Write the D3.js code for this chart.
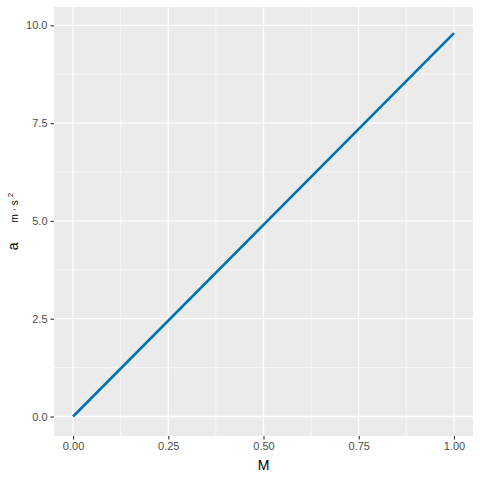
<!DOCTYPE html>
<html>
<head>
<meta charset="utf-8">
<script src="https://cdn.jsdelivr.net/npm/d3@7"></script>
<style>
  body { margin: 0; background: #fff; }
  svg { font-family: "Liberation Sans", Arial, sans-serif; }
</style>
</head>
<body>
<svg id="chart" width="480" height="480"></svg>
<script>
// data: acceleration vs mass fraction
const massValues = [0, 1];
const accelValues = [0, 9.8];
const xTicks = [0, 0.25, 0.5, 0.75, 1];
const yTicks = [0, 2.5, 5, 7.5, 10];
const xMinor = [0.125, 0.375, 0.625, 0.875];
const yMinor = [1.25, 3.75, 6.25, 8.75];

const svg = d3.select("#chart");
const panel = { left: 54, right: 473, top: 7, bottom: 436 };

// ggplot-like 5% expansion
const xDom = [0, 1], yDom = [0, 9.97];
const xPad = (xDom[1] - xDom[0]) * 0.05, yPad = (yDom[1] - yDom[0]) * 0.05;

const x = d3.scaleLinear()
  .domain([xDom[0] - xPad, xDom[1] + xPad])
  .range([panel.left, panel.right]);
const y = d3.scaleLinear()
  .domain([yDom[0] - yPad, yDom[1] + yPad])
  .range([panel.bottom, panel.top]);

svg.append("rect")
  .attr("x", panel.left).attr("y", panel.top)
  .attr("width", panel.right - panel.left)
  .attr("height", panel.bottom - panel.top)
  .attr("fill", "#EBEBEB");

const grid = svg.append("g").attr("stroke", "#fff").attr("fill", "none");
// minor
grid.selectAll(".vminor").data(xMinor).join("line")
  .attr("class", "vminor")
  .attr("x1", d => x(d)).attr("x2", d => x(d))
  .attr("y1", panel.top).attr("y2", panel.bottom)
  .attr("stroke-width", 0.6);
grid.selectAll(".hminor").data(yMinor).join("line")
  .attr("class", "hminor")
  .attr("y1", d => y(d)).attr("y2", d => y(d))
  .attr("x1", panel.left).attr("x2", panel.right)
  .attr("stroke-width", 0.6);
// major
grid.selectAll(".vmajor").data(xTicks).join("line")
  .attr("class", "vmajor")
  .attr("x1", d => x(d)).attr("x2", d => x(d))
  .attr("y1", panel.top).attr("y2", panel.bottom)
  .attr("stroke-width", 1.3);
grid.selectAll(".hmajor").data(yTicks).join("line")
  .attr("class", "hmajor")
  .attr("y1", d => y(d)).attr("y2", d => y(d))
  .attr("x1", panel.left).attr("x2", panel.right)
  .attr("stroke-width", 1.3);

// the line
const pts = massValues.map((m, i) => [m, accelValues[i]]);
svg.append("path")
  .datum(pts)
  .attr("fill", "none")
  .attr("stroke", "#0072B2")
  .attr("stroke-width", 2.6)
  .attr("d", d3.line().x(d => x(d[0])).y(d => y(d[1])));

// axes
const xAxis = d3.axisBottom(x).tickValues(xTicks)
  .tickFormat(d3.format(".2f")).tickSize(3.5).tickPadding(3);
const yAxis = d3.axisLeft(y).tickValues(yTicks)
  .tickFormat(d3.format(".1f")).tickSize(3.5).tickPadding(3);

const gx = svg.append("g")
  .attr("transform", `translate(0,${panel.bottom})`)
  .call(xAxis);
const gy = svg.append("g")
  .attr("transform", `translate(${panel.left},0)`)
  .call(yAxis);

[gx, gy].forEach(g => {
  g.select(".domain").remove();
  g.selectAll(".tick line").attr("stroke", "#333").attr("stroke-width", 1.1);
  g.selectAll(".tick text").attr("fill", "#4D4D4D")
    .attr("font-size", 11).attr("font-family", "Liberation Sans, Arial, sans-serif");
});

// axis titles
svg.append("text")
  .attr("x", (panel.left + panel.right) / 2)
  .attr("y", 470)
  .attr("text-anchor", "middle")
  .attr("font-size", 14)
  .attr("fill", "#000")
  .text("M");

const yt = svg.append("text")
  .attr("transform", `translate(18,${(panel.top + panel.bottom) / 2}) rotate(-90)`)
  .attr("text-anchor", "middle")
  .attr("fill", "#000");
yt.append("tspan").attr("font-size", 14).text("a");
yt.append("tspan").attr("font-size", 10).attr("dx", 20).text("m \u00B7 s");
yt.append("tspan").attr("font-size", 8).attr("dx", 3).attr("dy", -5).text("2");
</script>
</body>
</html>
